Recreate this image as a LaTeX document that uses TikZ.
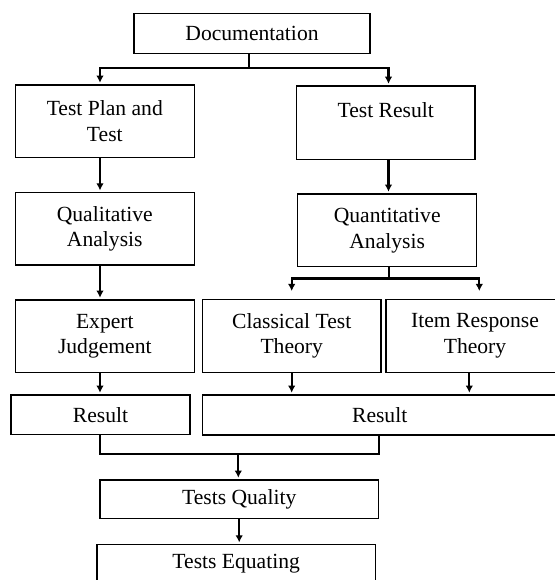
\documentclass[tikz,border=0pt]{standalone}
\usepackage{fontspec}
\setmainfont{Liberation Serif}
\usetikzlibrary{arrows.meta}
\tikzset{
  box/.style={draw, line width=0.65pt, align=center, inner sep=0pt,
    font=\fontsize{10.8}{12.8}\selectfont},
  link/.style={line width=1.1pt},
  arr/.style={link, -{Latex[length=3.6pt,width=3.8pt]}, shorten >=0.8pt}
}
\begin{document}
\begin{tikzpicture}[x=0.5pt, y=-0.5pt]
  \useasboundingbox (0,0) rectangle (555,580);
  \clip (0,0) rectangle (555,580);
  % Column guides
  \coordinate (lcol) at (100,0);
  \coordinate (rcol) at (388.5,0);
  \coordinate (irtin) at (479.3,0);
  \coordinate (irtout) at (469.3,0);
  \coordinate (mright) at (379.3,0);
  \coordinate (dsplit) at (249.3,68.3);
  \coordinate (qsplit) at (389.3,278.5);
  \coordinate (mjoin) at (238.3,454);
  % Boxes
  \node[box, minimum width=118pt, minimum height=20pt] (doc) at (252,33.3) {Documentation};
  \node[box, minimum width=89.5pt, minimum height=36.4pt] (plan) at (104.8,121.4) {Test Plan and\\Test};
  \node[box, minimum width=89.4pt, minimum height=36.6pt] (tres) at (385.7,122.7) {Test Result\\~};
  \node[box, minimum width=89.5pt, minimum height=36.2pt] (qual) at (104.8,228.9) {Qualitative\\Analysis};
  \node[box, minimum width=89.5pt, minimum height=36.4pt] (quan) at (387.2,230.4) {Quantitative\\Analysis};
  \node[box, minimum width=89.5pt, minimum height=36.4pt] (expert) at (104.8,336.4) {Expert\\Judgement};
  \node[box, minimum width=89.4pt, minimum height=36.7pt] (ctt) at (291.7,336) {Classical Test\\Theory};
  \node[box, minimum width=89pt, minimum height=36.7pt] (irt) at (475,336) {Item Response\\Theory};
  \node[box, minimum width=89.5pt, minimum height=19.7pt] (resl) at (100.5,414.7) {Result};
  \node[box, minimum width=177.4pt, minimum height=20pt] (resr) at (379.7,415) {Result};
  \node[box, minimum width=139.2pt, minimum height=19.2pt] (tq) at (239.2,499.2) {Tests Quality};
  \node[box, minimum width=139.2pt, minimum height=19.2pt] (te) at (236.2,563.9) {Tests Equating};
  % Connectors
  \draw[arr] (doc.south -| dsplit) -- (dsplit) -| (plan.north -| lcol);
  \draw[arr] (dsplit) -| (tres.north -| rcol);
  \draw[arr] (plan.south -| lcol) -- (qual.north -| lcol);
  \draw[arr] (tres.south -| rcol) -- (quan.north -| rcol);
  \draw[arr] (qual.south -| lcol) -- (expert.north -| lcol);
  \draw[arr, shorten >=3.8pt] (quan.south -| qsplit) -- (qsplit) -| (ctt.north);
  \draw[arr, shorten >=3.8pt] (qsplit) -| (irt.north -| irtin);
  \draw[arr] (expert.south -| lcol) -- (resl.north -| lcol);
  \draw[arr] (ctt.south) -- (resr.north -| ctt.south);
  \draw[arr] (irt.south -| irtout) -- (resr.north -| irtout);
  \draw[link] (resl.south -| lcol) |- (mjoin) -| (resr.south -| mright);
  \draw[arr] (mjoin) -- (tq.north -| mjoin);
  \draw[arr] (tq.south) -- (te.north -| tq.south);
\end{tikzpicture}
\end{document}
